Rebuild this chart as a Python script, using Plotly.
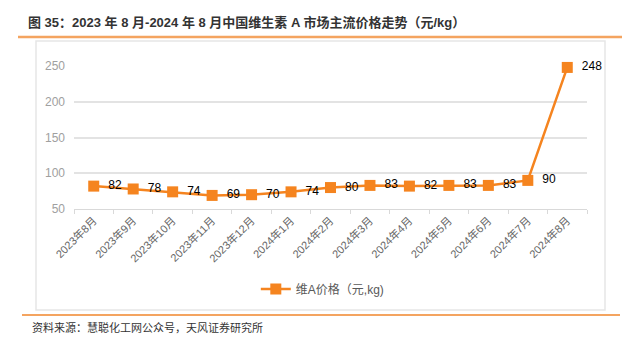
import plotly.graph_objects as go

months = ["2023年8月", "2023年9月", "2023年10月", "2023年11月", "2023年12月",
          "2024年1月", "2024年2月", "2024年3月", "2024年4月", "2024年5月",
          "2024年6月", "2024年7月", "2024年8月"]
prices = [82, 78, 74, 69, 70, 74, 80, 83, 82, 83, 83, 90, 248]
y_ticks = [50, 100, 150, 200, 250]

series_name = "维A价格（元,kg)"
title_text = "图 35：2023 年 8 月-2024 年 8 月中国维生素 A 市场主流价格走势（元/kg）"
source_text = "资料来源：慧聪化工网公众号，天风证券研究所"

ORANGE = "#F5841F"
FONT = "Liberation Sans, Noto Sans CJK SC, sans-serif"

# plot area in pixels
L, R, T, B = 74, 587, 66, 209
W, H = R - L, B - T


def px(x):
    return (x - L) / W


def py(y):
    return (B - y) / H


fig = go.Figure()
fig.add_trace(go.Scatter(
    x=months, y=prices, mode="lines+markers+text", name=series_name,
    line=dict(color=ORANGE, width=2.5),
    marker=dict(symbol="square", size=11, color=ORANGE),
    text=["\u00a0\u00a0" + str(v) for v in prices], textposition="middle right",
    textfont=dict(family=FONT, size=12, color="#000000"),
    cliponaxis=False,
))

fig.update_layout(
    width=635, height=338,
    margin=dict(l=L, r=635 - R, t=T, b=338 - B),
    paper_bgcolor="white", plot_bgcolor="white",
    font=dict(family=FONT),
    showlegend=True,
    legend=dict(orientation="h", x=0.485, xanchor="center", y=py(289), yanchor="middle",
                font=dict(family=FONT, size=12, color="#595959"),
                bgcolor="rgba(0,0,0,0)"),
    xaxis=dict(
        type="category", range=[-0.5, len(months) - 0.5],
        tickangle=-45, tickfont=dict(family=FONT, size=11, color="#666666"),
        showgrid=False, showline=True, linecolor="#D9D9D9", linewidth=1,
        ticks="outside", tickson="boundaries", ticklen=4, tickcolor="#D9D9D9",
    ),
    yaxis=dict(
        range=[50, 250], tickvals=y_ticks,
        tickfont=dict(family=FONT, size=12, color="#A0A0A0"),
        showgrid=True, gridcolor="#E3E3E3", gridwidth=1.5,
        zeroline=False, showline=False, ticks="", ticklabelstandoff=8,
    ),
    annotations=[
        dict(text="<b>" + title_text + "</b>", xref="paper", yref="paper",
             x=px(26), y=py(22), xanchor="left", yanchor="middle", showarrow=False,
             font=dict(family=FONT, size=13, color="#333333")),
        dict(text=source_text, xref="paper", yref="paper",
             x=px(30), y=py(327), xanchor="left", yanchor="middle", showarrow=False,
             font=dict(family=FONT, size=11, color="#333333")),
    ],
    shapes=[
        dict(type="line", xref="paper", yref="paper", x0=px(18), x1=px(622),
             y0=py(37), y1=py(37), line=dict(color="#F4A460", width=2.5)),
        dict(type="rect", xref="paper", yref="paper", x0=px(36), x1=px(605),
             y0=py(310), y1=py(41), line=dict(color="#E6E6E6", width=1.5), layer="below"),
        dict(type="line", xref="paper", yref="paper", x0=px(22), x1=px(620),
             y0=py(315), y1=py(315), line=dict(color="#F4A460", width=2)),
    ],
)

fig.write_html("out.html")
